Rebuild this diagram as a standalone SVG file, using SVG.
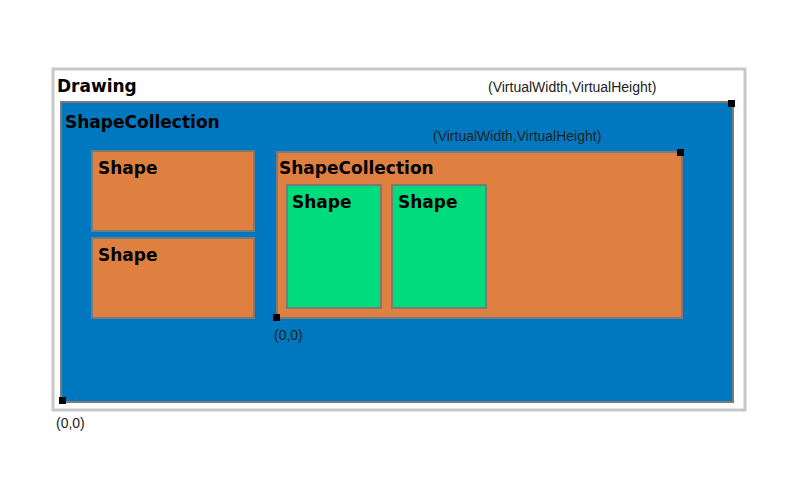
<svg xmlns="http://www.w3.org/2000/svg" width="800" height="500" viewBox="0 0 800 500">
<style>
.b{font-family:"DejaVu Sans",sans-serif;font-weight:bold;font-size:17px;fill:#000}
.s{font-family:"Liberation Sans",sans-serif;font-size:14px;fill:#222}
.o{fill:#df8040;stroke:#7a7a7a;stroke-width:2}
.g{fill:#00dc7c;stroke:#7a7a7a;stroke-width:2}
.m{fill:#000}
</style>
<rect width="800" height="500" fill="#fff"/>
<g id="drawing">
<rect x="53" y="69" width="692" height="341" fill="#fff" stroke="#c8c8c8" stroke-width="3"/>
<text class="b" x="57" y="92">Drawing</text>
<text class="s" x="488" y="92">(VirtualWidth,VirtualHeight)</text>
<text class="s" x="56" y="428">(0,0)</text>
</g>
<g id="collection">
<rect x="61" y="102" width="672" height="300" fill="#0078c0" stroke="#7a7a7a" stroke-width="2"/>
<text class="b" x="65" y="128">ShapeCollection</text>
</g>
<g id="shape1"><rect class="o" x="92" y="151" width="162" height="80"/><text class="b" x="98" y="174">Shape</text></g>
<g id="shape2"><rect class="o" x="92" y="238" width="162" height="80"/><text class="b" x="98" y="261">Shape</text></g>
<g id="collection2">
<rect class="o" x="277" y="152" width="405" height="166"/>
<text class="b" x="279" y="174">ShapeCollection</text>
<text class="s" x="433" y="141">(VirtualWidth,VirtualHeight)</text>
<text class="s" x="274" y="340">(0,0)</text>
</g>
<g id="shape3"><rect class="g" x="287" y="185" width="94" height="123"/><text class="b" x="292" y="208">Shape</text></g>
<g id="shape4"><rect class="g" x="392" y="185" width="94" height="123"/><text class="b" x="398" y="208">Shape</text></g>
<g id="connectors">
<rect class="m" x="728" y="100" width="7" height="7"/>
<rect class="m" x="677" y="149" width="7" height="7"/>
<rect class="m" x="273" y="314" width="7" height="7"/>
<rect class="m" x="59" y="397" width="7" height="7"/>
</g>
</svg>
